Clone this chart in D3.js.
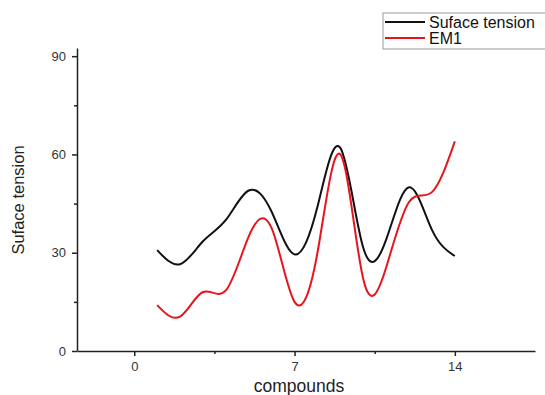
<!DOCTYPE html>
<html>
<head>
<meta charset="utf-8">
<script src="https://cdn.jsdelivr.net/npm/d3@7"></script>
<style>
  body { margin: 0; background: #fff; }
  svg { display: block; font-family: Arial, "Liberation Sans", sans-serif; }
  .axis path, .axis line { stroke: #222; }
  .axis text { fill: #333; font-size: 13px; }
</style>
</head>
<body>
<svg id="chart" width="545" height="395"></svg>
<script>
var compounds = [1, 2, 3, 4, 5, 6, 7, 8, 9, 10, 11, 12, 13, 14];
var sufaceTension = [30.8, 26.5, 33.5, 40, 49, 42.5, 29.5, 44, 62, 31.5, 34, 50, 37, 29];
var em1 = [14, 10.5, 18, 18.5, 35, 37.5, 15, 30, 60, 22, 25.5, 45.5, 48.5, 64];
var xTicks = [0, 7, 14];
var yTicks = [0, 30, 60, 90];
var seriesNames = ["Suface tension", "EM1"];

(function () {
    var svg = d3.select("#chart");
    var x = d3.scaleLinear().domain([-2.5, 17.5]).range([77, 535]);
    var y = d3.scaleLinear().domain([0, 92.5]).range([351, 48]);

    // minor ticks first so the major ones sit on top
    svg.append("g").attr("class", "axis")
        .attr("transform", "translate(0," + y(0) + ")")
        .call(d3.axisBottom(x).tickValues([3.5, 10.5]).tickSize(3).tickFormat(""))
        .select(".domain").remove();
    svg.append("g").attr("class", "axis")
        .attr("transform", "translate(" + x(-2.5) + ",0)")
        .call(d3.axisLeft(y).tickValues([15, 45, 75]).tickSize(3).tickFormat(""))
        .select(".domain").remove();

    svg.append("g").attr("class", "axis")
        .attr("transform", "translate(0," + y(0) + ")")
        .call(d3.axisBottom(x).tickValues(xTicks).tickSize(5).tickSizeOuter(0).tickPadding(6));
    svg.append("g").attr("class", "axis")
        .attr("transform", "translate(" + x(-2.5) + ",0)")
        .call(d3.axisLeft(y).tickValues(yTicks).tickSize(5).tickSizeOuter(0).tickPadding(6));
    svg.selectAll(".axis path, .axis line").attr("stroke-width", 1.5);

    svg.append("text")
        .attr("x", 299).attr("y", 392)
        .attr("text-anchor", "middle")
        .style("font-size", "17.5px").attr("fill", "#222")
        .text("compounds");
    svg.append("text")
        .attr("transform", "translate(24," + 200 + ") rotate(-90)")
        .attr("text-anchor", "middle")
        .style("font-size", "16.5px").attr("fill", "#222")
        .text("Suface tension");

    var line = function (vals) {
        return d3.line().curve(d3.curveNatural)
            .x(function (d, i) { return x(compounds[i]); })
            .y(function (d) { return y(d); })(vals);
    };
    svg.append("path").attr("d", line(sufaceTension))
        .attr("fill", "none").attr("stroke", "#111").attr("stroke-width", 2);
    svg.append("path").attr("d", line(em1))
        .attr("fill", "none").attr("stroke", "#e8141b").attr("stroke-width", 2);

    // legend
    var lg = svg.append("g").attr("transform", "translate(383,13)");
    lg.append("rect").attr("width", 170).attr("height", 36)
        .attr("fill", "#fff").attr("stroke", "#999").attr("stroke-width", 1);
    var colors = ["#111", "#e8141b"];
    seriesNames.forEach(function (n, i) {
        lg.append("line").attr("x1", 2).attr("x2", 42)
            .attr("y1", 9 + i * 16).attr("y2", 9 + i * 16)
            .attr("stroke", colors[i]).attr("stroke-width", 2);
        lg.append("text").attr("x", 46).attr("y", 15 + i * 16)
            .style("font-size", "16px").attr("fill", "#111").text(n);
    });
})();
</script>
</body>
</html>
